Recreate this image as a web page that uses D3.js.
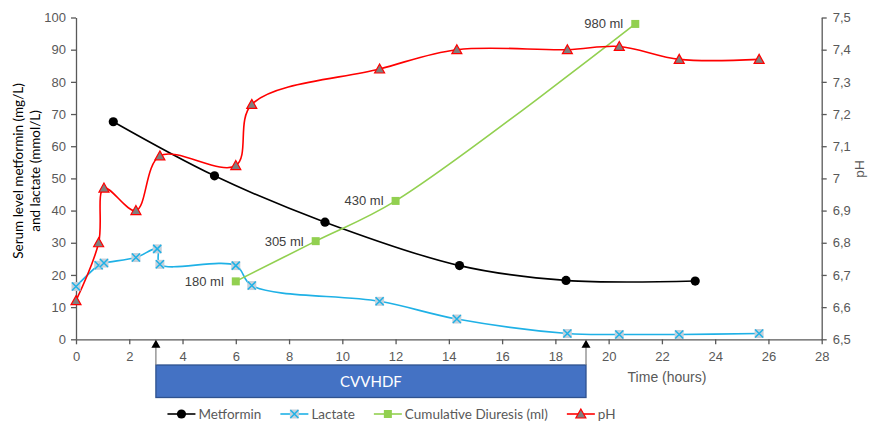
<!DOCTYPE html>
<html>
<head>
<meta charset="utf-8">
<script src="https://cdn.jsdelivr.net/npm/d3@7"></script>
<style>
  body { margin: 0; background: #fff; }
  svg { display: block; }
</style>
</head>
<body>
<script>
// hours / values
const metforminHours = [1.4, 5.2, 9.35, 14.4, 18.4, 23.25];
const metforminValues = [67.6, 50.8, 36.4, 22.9, 18.3, 18.1];

const lactateHours = [0, 0.85, 1.05, 2.25, 3.05, 3.15, 6.0, 6.6, 11.4, 14.3, 18.45, 20.4, 22.65, 25.65];
const lactateValues = [16.4, 23.0, 23.7, 25.4, 28.1, 23.3, 22.9, 16.7, 11.8, 6.3, 1.8, 1.5, 1.5, 1.8];

const diuresisHours = [6, 9, 12, 21];
const diuresisMl = [180, 305, 430, 980];

const phHours = [0, 0.85, 1.05, 2.25, 3.15, 6.0, 6.6, 11.4, 14.3, 18.45, 20.4, 22.65, 25.65];
const phValues = [6.62, 6.80, 6.97, 6.90, 7.07, 7.04, 7.23, 7.34, 7.40, 7.40, 7.41, 7.37, 7.37];

const xTicks = d3.range(0, 29, 2);
const leftTicks = d3.range(0, 101, 10);
const rightTicks = [6.5, 6.6, 6.7, 6.8, 6.9, 7.0, 7.1, 7.2, 7.3, 7.4, 7.5];

const cvvhdfStart = 3;
const cvvhdfEnd = 19.15;

const legendItems = ["Metformin", "Lactate", "Cumulative Diuresis (ml)", "pH"];

const width = 871, height = 425;
const margin = { left: 76, top: 17.5, right: 49.3, bottom: 85.7 };

const axisColor = "#595959";
const labelColor = "#595959";
const sans = "'Liberation Sans', Arial, sans-serif";
const soft = "Lato, 'Open Sans', sans-serif";

const svg = d3.select("body").append("svg")
  .attr("width", width)
  .attr("height", height);

const x = d3.scaleLinear().domain([0, 28]).range([margin.left, width - margin.right]);
const y = d3.scaleLinear().domain([0, 100]).range([height - margin.bottom, margin.top]);
const yPh = d3.scaleLinear().domain([6.5, 7.5]).range([height - margin.bottom, margin.top]);

const fmtComma = (d) => (Math.round(d * 10) / 10).toString().replace(".", ",");

// axes
const xAxis = svg.append("g")
  .attr("transform", `translate(0,${y(0)})`)
  .call(d3.axisBottom(x).tickValues(xTicks).tickSize(5).tickSizeOuter(0).tickPadding(6));
const yAxis = svg.append("g")
  .attr("transform", `translate(${x(0)},0)`)
  .call(d3.axisLeft(y).tickValues(leftTicks).tickSize(5).tickSizeOuter(0).tickPadding(5));
const yAxisR = svg.append("g")
  .attr("transform", `translate(${x(28)},0)`)
  .call(d3.axisRight(yPh).tickValues(rightTicks).tickFormat(fmtComma).tickSize(5).tickSizeOuter(0).tickPadding(6));

[xAxis, yAxis, yAxisR].forEach((g) => {
  g.select(".domain").attr("stroke", axisColor).attr("stroke-width", 1.3);
  g.selectAll(".tick line").attr("stroke", axisColor).attr("stroke-width", 1.3);
  g.selectAll(".tick text")
    .attr("fill", labelColor)
    .style("font-family", sans)
    .style("font-size", "13px");
});
xAxis.selectAll(".tick text").attr("dy", "0.85em");

// axis titles
const leftTitle = svg.append("text")
  .attr("transform", `translate(0,171) rotate(-90)`)
  .attr("text-anchor", "middle")
  .style("font-family", soft)
  .style("font-size", "13.5px")
  .attr("fill", "#000");
leftTitle.append("tspan").attr("x", 0).attr("y", 23).text("Serum level metformin (mg/L)");
leftTitle.append("tspan").attr("x", 0).attr("y", 40).text("and lactate (mmol/L)");

svg.append("text")
  .attr("transform", `translate(864,169) rotate(-90)`)
  .attr("text-anchor", "middle")
  .style("font-family", sans)
  .style("font-size", "13.5px")
  .attr("fill", labelColor)
  .text("pH");

svg.append("text")
  .attr("x", 667)
  .attr("y", 381.5)
  .attr("text-anchor", "middle")
  .style("font-family", sans)
  .style("font-size", "14px")
  .attr("fill", labelColor)
  .text("Time (hours)");

// CVVHDF bar with arrows
const barTop = 365, barBottom = 397.5;
svg.append("rect")
  .attr("x", x(cvvhdfStart))
  .attr("y", barTop)
  .attr("width", x(cvvhdfEnd) - x(cvvhdfStart))
  .attr("height", barBottom - barTop)
  .attr("fill", "#4472C4")
  .attr("stroke", "#2F528F")
  .attr("stroke-width", 1.3);
svg.append("text")
  .attr("x", (x(cvvhdfStart) + x(cvvhdfEnd)) / 2)
  .attr("y", (barTop + barBottom) / 2)
  .attr("dy", "0.35em")
  .attr("text-anchor", "middle")
  .style("font-family", soft)
  .style("font-size", "15px")
  .attr("fill", "#fff")
  .text("CVVHDF");
[cvvhdfStart, cvvhdfEnd].forEach((h) => {
  const px = x(h);
  svg.append("line")
    .attr("x1", px).attr("x2", px)
    .attr("y1", y(0) + 6).attr("y2", barTop)
    .attr("stroke", "#7f7f7f").attr("stroke-width", 1.2);
  svg.append("path")
    .attr("d", `M${px},${y(0) + 0.5}L${px - 4.5},${y(0) + 8.5}L${px + 4.5},${y(0) + 8.5}Z`)
    .attr("fill", "#000");
});

// series
const curve = d3.curveCatmullRom.alpha(0.5);

function drawLine(pts, color) {
  svg.append("path")
    .datum(pts)
    .attr("fill", "none")
    .attr("stroke", color)
    .attr("stroke-width", 1.6)
    .attr("d", d3.line().x((d) => d[0]).y((d) => d[1]).curve(curve));
}

const metPts = metforminHours.map((h, i) => [x(h), y(metforminValues[i])]);
const lacPts = lactateHours.map((h, i) => [x(h), y(lactateValues[i])]);
const diuPts = diuresisHours.map((h, i) => [x(h), y(diuresisMl[i] / 10)]);
const phPts = phHours.map((h, i) => [x(h), yPh(phValues[i])]);

const colors = { met: "#000000", lac: "#1FB1E6", diu: "#92D050", ph: "#FF0000" };

drawLine(metPts, colors.met);
drawLine(lacPts, colors.lac);
drawLine(diuPts, colors.diu);
drawLine(phPts, colors.ph);

// markers
function circleMark(g, cx, cy) {
  g.append("circle").attr("cx", cx).attr("cy", cy).attr("r", 4.6).attr("fill", "#000");
}
function crossMark(g, cx, cy) {
  g.append("rect").attr("x", cx - 4.5).attr("y", cy - 4.5).attr("width", 9).attr("height", 9)
    .attr("fill", "#c5d0da");
  g.append("path")
    .attr("d", `M${cx - 4},${cy - 4}L${cx + 4},${cy + 4}M${cx - 4},${cy + 4}L${cx + 4},${cy - 4}`)
    .attr("stroke", colors.lac).attr("stroke-width", 1.5);
}
function squareMark(g, cx, cy) {
  g.append("rect").attr("x", cx - 4).attr("y", cy - 4).attr("width", 8).attr("height", 8)
    .attr("fill", colors.diu);
}
function triMark(g, cx, cy) {
  g.append("path")
    .attr("d", `M${cx},${cy - 5}L${cx + 5},${cy + 4}L${cx - 5},${cy + 4}Z`)
    .attr("fill", "#7f7f7f").attr("stroke", colors.ph).attr("stroke-width", 1.2);
}

const marks = svg.append("g");
metPts.forEach((p) => circleMark(marks, p[0], p[1]));
lacPts.forEach((p) => crossMark(marks, p[0], p[1]));
diuPts.forEach((p) => squareMark(marks, p[0], p[1]));
phPts.forEach((p) => triMark(marks, p[0], p[1]));

// diuresis data labels
svg.append("g").selectAll("text")
  .data(diuresisMl)
  .join("text")
  .attr("x", (d, i) => diuPts[i][0] - 12)
  .attr("y", (d, i) => diuPts[i][1])
  .attr("dy", "0.35em")
  .attr("text-anchor", "end")
  .style("font-family", sans)
  .style("font-size", "13px")
  .attr("fill", "#404040")
  .text((d) => `${d} ml`);

// legend
const legendY = 414;
const markFns = [circleMark, crossMark, squareMark, triMark];
const lineColors = [colors.met, colors.lac, colors.diu, colors.ph];
const legend = svg.append("g");
let cursor = 0;
legendItems.forEach((name, i) => {
  const g = legend.append("g").attr("transform", `translate(${cursor},0)`);
  g.append("line").attr("x1", 0).attr("x2", 28).attr("y1", legendY).attr("y2", legendY)
    .attr("stroke", lineColors[i]).attr("stroke-width", 1.6);
  markFns[i](g, 14, legendY);
  const t = g.append("text")
    .attr("x", 31)
    .attr("y", legendY)
    .attr("dy", "0.35em")
    .style("font-family", soft)
    .style("font-size", "13.5px")
    .attr("fill", labelColor)
    .text(name);
  cursor += 31 + t.node().getComputedTextLength() + 19;
});
const legendW = cursor - 19;
legend.attr("transform", `translate(${391.5 - legendW / 2},0)`);
</script>
</body>
</html>
